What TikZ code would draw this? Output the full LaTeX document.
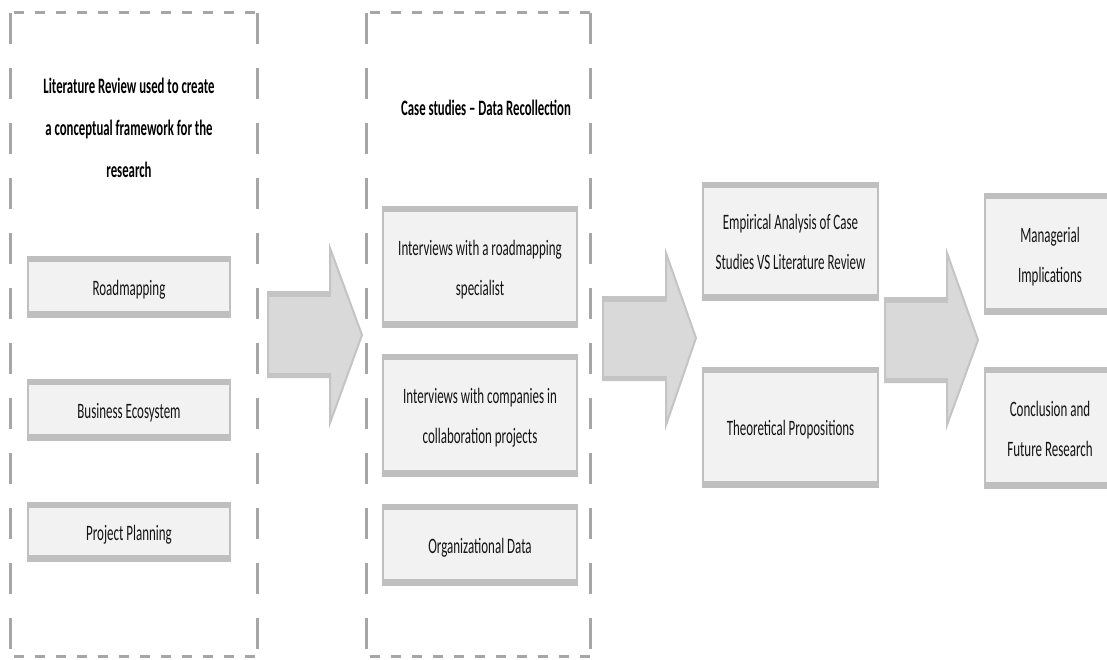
\documentclass[tikz,border=0pt]{standalone}
\usepackage{fontspec}
\setmainfont{Carlito}
\usepackage{graphicx}

\definecolor{edgegray}{HTML}{BFBFBF}
\definecolor{boxfill}{HTML}{F2F2F2}
\definecolor{dashgray}{HTML}{A6A6A6}
\definecolor{arrowfill}{HTML}{D9D9D9}
\definecolor{arrowedge}{HTML}{C4C4C4}
\definecolor{inkc}{HTML}{141414}

% condensed, centred multi-line label
\newcommand{\squeezed}[1]{\raisebox{3pt}{\scalebox{0.59}[1]{\begin{tabular}{@{}c@{}}#1\end{tabular}}}}
\newcommand{\squeezedhead}[1]{\scalebox{0.58}[1]{\begin{tabular}{@{}c@{}}#1\end{tabular}}}

\tikzset{
  stepbox/.style={rectangle, draw=edgegray, line width=2.5pt, fill=boxfill,
    inner sep=0pt, text=inkc, font=\fontsize{22}{40}\selectfont,
    path picture={
      \fill[edgegray] (path picture bounding box.north west) rectangle ([yshift=-5pt]path picture bounding box.north east);
      \fill[edgegray] (path picture bounding box.south west) rectangle ([yshift=6pt]path picture bounding box.south east);
    }},
  headlabel/.style={inner sep=0pt, text=black, font=\fontsize{22}{42}\selectfont\bfseries},
  groupframe/.style={rectangle, inner sep=0pt},
  hside/.style={draw=dashgray, line width=3pt, dash pattern=on 10pt off 11pt},
  vside/.style={draw=dashgray, line width=3pt, dash pattern=on 31pt off 24pt},
  blockarrow/.style={fill=arrowfill, draw=arrowedge, line width=2pt, line join=miter},
  arrowband/.style={draw=arrowedge, line width=5pt},
}

\begin{document}
\begin{tikzpicture}[x=1pt, y=-1pt]
  \useasboundingbox (0,0) rectangle (1107,659);
  \clip (0,0) rectangle (1107,659);
  \fill[white] (0,0) rectangle (1107,659);

  % dashed group frames
  \node[groupframe, minimum width=246pt, minimum height=643pt] (g1) at (134,334.5) {};
  \node[groupframe, minimum width=223pt, minimum height=643pt] (g2) at (478.5,334.5) {};
  \foreach \g in {g1,g2}{
    \draw[hside, dash phase=-3pt] (\g.north west) -- (\g.north east);
    \draw[hside, dash phase=-3pt] (\g.south west) -- (\g.south east);
    \draw[vside] (\g.north west) -- (\g.south west);
    \draw[vside] (\g.north east) -- (\g.south east);
  }

  % group headings
  \node[headlabel] (h1) at (129,126.6) {\squeezedhead{Literature Review used to create\\a conceptual framework for the\\research}};
  \node[headlabel] (h2) at (486,106.6) {\squeezedhead{Case studies -- Data Recollection}};

  % literature review topics
  \node[stepbox, minimum width=202pt, minimum height=60pt] (rm) at (129,287) {\squeezed{Roadmapping}};
  \node[stepbox, minimum width=202pt, minimum height=60pt] (be) at (129,410) {\squeezed{Business Ecosystem}};
  \node[stepbox, minimum width=202pt, minimum height=58pt] (pp) at (129,532) {\squeezed{Project Planning}};

  % case study data sources
  \node[stepbox, minimum width=194pt, minimum height=120pt] (iv1) at (480,267) {\squeezed{Interviews with a roadmapping\\specialist}};
  \node[stepbox, minimum width=194pt, minimum height=121pt] (iv2) at (480,415.5) {\squeezed{Interviews with companies in\\collaboration projects}};
  \node[stepbox, minimum width=194pt, minimum height=80pt] (od) at (480,545) {\squeezed{Organizational Data}};

  % analysis
  \node[stepbox, minimum width=175pt, minimum height=117pt] (ea) at (790.5,241.5) {\squeezed{Empirical Analysis of Case\\Studies VS Literature Review}};
  \node[stepbox, minimum width=175pt, minimum height=119pt] (tp) at (790.5,427.5) {\squeezed{Theoretical Propositions}};

  % outcomes
  \node[stepbox, minimum width=130pt, minimum height=120pt] (mi) at (1050,254) {\squeezed{Managerial\\Implications}};
  \node[stepbox, minimum width=130pt, minimum height=120pt] (cf) at (1050,428) {\squeezed{Conclusion and\\Future Research}};

  % block arrows between stages
  \draw[blockarrow] (268,292) -- (330,292) -- (330,248) -- (362,335) -- (330,423) -- (330,377) -- (268,377) -- cycle;
  \draw[arrowband] (269,294) -- (331,294);
  \draw[arrowband] (269,375) -- (331,375);

  \draw[blockarrow] (603,297) -- (666,297) -- (666,253) -- (696,338) -- (666,425) -- (666,380) -- (603,380) -- cycle;
  \draw[arrowband] (604,299) -- (667,299);
  \draw[arrowband] (604,378) -- (667,378);

  \draw[blockarrow] (885,298) -- (947,298) -- (947,253) -- (978,340) -- (947,425) -- (947,382) -- (885,382) -- cycle;
  \draw[arrowband] (886,300) -- (948,300);
  \draw[arrowband] (886,380) -- (948,380);
\end{tikzpicture}
\end{document}
